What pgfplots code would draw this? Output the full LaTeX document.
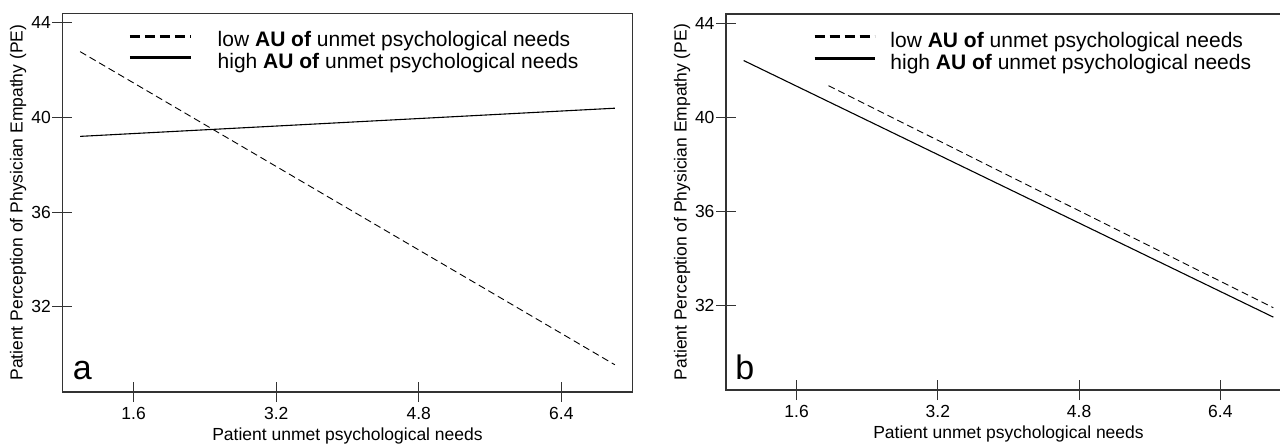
\documentclass[border=0pt]{standalone}
\usepackage{fontspec}
\setmainfont{Liberation Sans}
\usepackage{pgfplots}
\pgfplotsset{compat=1.18}

\pgfplotsset{
  panel/.style={
    scale only axis,
    anchor=south west,
    xmin=0.8, xmax=7.2, ymin=28.4, ymax=44.4,
    xtick={1.6,3.2,4.8,6.4}, ytick={32,36,40,44},
    tick pos=left,
    tick align=center,
    major tick length=20pt,
    tick style={line width=1pt, black!80},
    axis line style={line width=1.2pt, black!80},
    /pgf/number format/assume math mode=true,
    x tick label style={/pgf/number format/fixed, /pgf/number format/fixed zerofill, /pgf/number format/precision=1, yshift=-1.5pt},
    y tick label style={xshift=2pt},
    tick label style={font=\fontsize{17.5}{20}\selectfont},
    xlabel={Patient unmet psychological needs},
    ylabel={Patient Perception of Physician Empathy (PE)},
    every axis x label/.style={at={(axis description cs:0.5,0)}, anchor=base, yshift=-49pt, font=\fontsize{17.5}{20}\selectfont},
    every axis y label/.style={at={(axis description cs:-0.0777,0.5)}, rotate=90, anchor=center, font=\fontsize{17.5}{20}\selectfont},
    legend cell align=left,
    legend style={draw=none, fill=none, inner sep=0pt, row sep=1.7pt, anchor=north west,
      font=\fontsize{21}{24}\selectfont,
      nodes={inner sep=0pt, text height=15pt, text depth=5pt}},
  },
}

\begin{document}
\begin{tikzpicture}
% ---------------- panel a ----------------
\begin{axis}[panel, at={(62.3pt,52pt)}, width=570.4pt, height=378.7pt,
  legend style={at={(axis description cs:0.1157,0.9514)}}]
\addplot[black, line width=0.9pt, dash pattern=on 7pt off 4pt,
  legend image code/.code={\draw[black, line width=3pt, dash pattern=on 10pt off 5pt] (0pt,5.7pt) -- (61pt,5.7pt); \path[draw=none] (0pt,5.7pt) -- (87.7pt,5.7pt);}]
  coordinates {(1.0,42.78) (7.0,29.55)};
\addlegendentry{low \textbf{AU of} unmet psychological needs}
\addplot[black, line width=1.1pt,
  legend image code/.code={\draw[black, line width=3pt] (0pt,5.7pt) -- (61pt,5.7pt); \path[draw=none] (0pt,5.7pt) -- (87.7pt,5.7pt);}]
  coordinates {(1.0,39.2) (7.0,40.39)};
\addlegendentry{high \textbf{AU of} unmet psychological needs}
\node[anchor=base west, inner sep=0pt, font=\fontsize{34}{34}\selectfont] at (rel axis cs:0.0184,0.0335) {a};
\end{axis}
% ---------------- panel b ----------------
\begin{axis}[panel, at={(726pt,54pt)}, width=565pt, height=376pt,
  legend style={at={(axis description cs:0.154,0.9514)}}]
\addplot[black, line width=0.9pt, dash pattern=on 7pt off 4pt,
  legend image code/.code={\draw[black, line width=3pt, dash pattern=on 10pt off 5pt] (0pt,5.7pt) -- (60pt,5.7pt); \path[draw=none] (0pt,5.7pt) -- (75.7pt,5.7pt);}]
  coordinates {(1.96,41.35) (7.0,31.9)};
\addlegendentry{low \textbf{AU of} unmet psychological needs}
\addplot[black, line width=1.1pt,
  legend image code/.code={\draw[black, line width=3pt] (0pt,5.7pt) -- (60pt,5.7pt); \path[draw=none] (0pt,5.7pt) -- (75.7pt,5.7pt);}]
  coordinates {(1.0,42.42) (7.0,31.5)};
\addlegendentry{high \textbf{AU of} unmet psychological needs}
\node[anchor=base west, inner sep=0pt, font=\fontsize{34}{34}\selectfont] at (rel axis cs:0.016,0.0266) {b};
\end{axis}
\pgfresetboundingbox
\useasboundingbox (0pt,0pt) rectangle (1280pt,444pt);
\end{tikzpicture}
\end{document}
